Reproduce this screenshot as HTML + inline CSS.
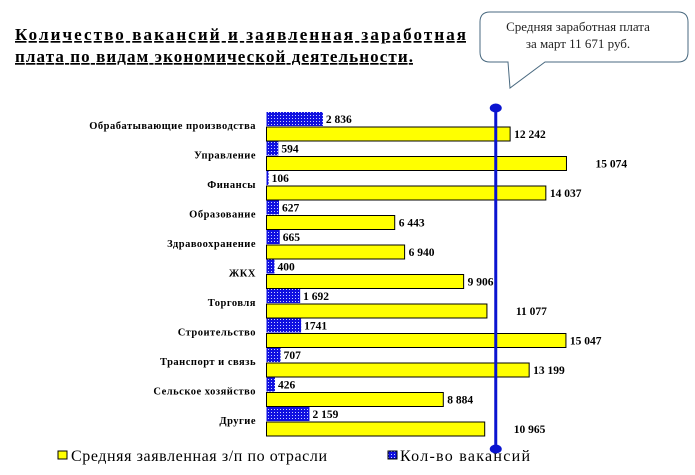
<!DOCTYPE html>
<html><head><meta charset="utf-8">
<style>
body{margin:0;background:#fff;}
svg text{font-family:"Liberation Serif",serif;}
</style></head>
<body>
<svg width="695" height="470" viewBox="0 0 695 470" xmlns="http://www.w3.org/2000/svg">
<defs>
<pattern id="dots" width="3" height="3" patternUnits="userSpaceOnUse">
<rect width="3" height="3" fill="#1010e0"/>
<rect x="1" y="1" width="1" height="1" fill="#c8d0ff"/>
</pattern>
</defs>
<g font-weight="bold" font-size="17" fill="#000" text-decoration="underline">
<text x="15" y="40" textLength="451" lengthAdjust="spacing">Количество вакансий и заявленная заработная</text>
<text x="15" y="62" textLength="398" lengthAdjust="spacing">плата по видам экономической деятельности.</text>
</g>
<g>
<path d="M490 12 Q480 12 480 22 L480 52 Q480 62 490 62 L508 62 L510 88 L545 62 L678 62 Q688 62 688 52 L688 22 Q688 12 678 12 Z" fill="#fff" stroke="#4a6a80" stroke-width="1"/>
<text x="578" y="31" font-size="13" text-anchor="middle" fill="#222">Средняя заработная плата</text>
<text x="578" y="48" font-size="13" text-anchor="middle" fill="#222">за март 11 671 руб.</text>
</g>
<g id="plot"></g>
<g>
<rect x="58" y="451" width="9" height="8" fill="#ffff00" stroke="#000"/>
<text x="71" y="461" font-size="16" textLength="256" lengthAdjust="spacing">Средняя заявленная з/п по отрасли</text>
<rect x="388" y="451" width="9" height="8" fill="url(#dots)" stroke="#000"/>
<text x="400" y="461" font-size="16" textLength="130" lengthAdjust="spacing">Кол-во вакансий</text>
</g>
</svg>
<script>
const categories=["Обрабатывающие производства","Управление","Финансы","Образование","Здравоохранение","ЖКХ","Торговля","Строительство","Транспорт и связь","Сельское хозяйство","Другие"];
const vacancies=[2836,594,106,627,665,400,1692,1741,707,426,2159];
const vacancyLabels=["2 836","594","106","627","665","400","1 692","1741","707","426","2 159"];
const salaries=[12242,15074,14037,6443,6940,9906,11077,15047,13199,8884,10965];
const salaryLabels=["12 242","15 074","14 037","6 443","6 940","9 906","11 077","15 047","13 199","8 884","10 965"];
const averageSalary=11671;
const labelShift=[0,25,0,0,0,0,25,0,0,0,25];
const NS="http://www.w3.org/2000/svg";
const g=document.getElementById('plot');
const X0=266.5,K=0.0199;
const x=v=>X0+v*K;
const rowY=i=>112+i*29.5;
function mk(t,a){const e=document.createElementNS(NS,t);for(const k in a)e.setAttribute(k,a[k]);g.appendChild(e);return e;}
categories.forEach((c,i)=>{
 const y=rowY(i);
 const t=mk('text',{x:256,y:y+17,'font-size':10.5,'font-weight':'bold','text-anchor':'end','letter-spacing':0.5});
 t.textContent=c;
 
 
 const b=mk('rect',{x:x(0),y:y,width:Math.max(vacancies[i]*K,1),height:14,fill:'url(#dots)'});
 
 
 const vl=mk('text',{x:x(vacancies[i])+3,y:y+11,'font-size':11.5,'font-weight':'bold'});
 vl.textContent=vacancyLabels[i];
 
 
 const s=mk('rect',{x:x(0),y:y+15,width:salaries[i]*K,height:14,fill:'#ffff00',stroke:'#000','stroke-width':1});
 
 
 const sl=mk('text',{x:x(salaries[i])+4+labelShift[i],y:y+26,'font-size':11.5,'font-weight':'bold'});
 sl.textContent=salaryLabels[i];
 
 
});
const ax=x(averageSalary)-3;
const ln=mk('line',{x1:ax,y1:108,x2:ax,y2:448,stroke:'#0a14d0','stroke-width':3});


const c1=mk('ellipse',{cx:ax,cy:108,rx:6,ry:4.5,fill:'#0a14d0'});


const c2=mk('ellipse',{cx:ax,cy:449,rx:6,ry:4.5,fill:'#0a14d0'});


</script>
</body></html>
